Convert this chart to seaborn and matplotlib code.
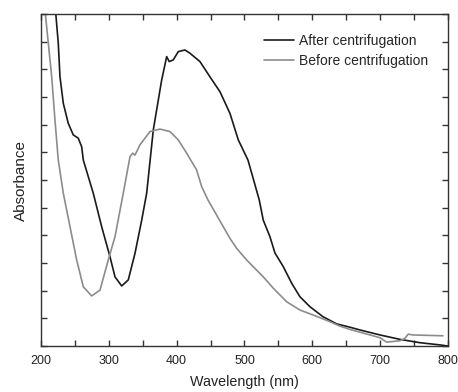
import numpy as np
import pandas as pd
import matplotlib
matplotlib.use("Agg")
import matplotlib.pyplot as plt
import seaborn as sns

# spectra
after_wl = [217.7, 225.5, 228.0, 232.9, 240.2, 247.6, 255.0, 260.0, 262.4, 277.1, 289.5,
            301.7, 309.1, 319.0, 328.7, 338.6, 348.5, 355.8, 365.6, 377.9, 385.3, 389.1,
            395.0, 402.4, 412.3, 419.7, 434.4, 449.1, 463.9, 478.6, 490.9, 505.2, 521.8,
            527.7, 537.6, 545.0, 557.2, 569.6, 581.8, 596.6, 615.7, 635.9, 655.5, 670.3,
            699.8, 729.3, 758.7, 788.2, 800.0]
after_abs = [1.32, 1.094, 0.973, 0.877, 0.805, 0.763, 0.751, 0.720, 0.672, 0.552, 0.431,
             0.323, 0.250, 0.217, 0.239, 0.335, 0.455, 0.552, 0.781, 0.961, 1.046, 1.028,
             1.034, 1.064, 1.070, 1.058, 1.028, 0.973, 0.919, 0.841, 0.745, 0.672, 0.528,
             0.455, 0.395, 0.336, 0.287, 0.227, 0.178, 0.142, 0.106, 0.080, 0.068, 0.058,
             0.040, 0.024, 0.012, 0.004, 0.0]

before_wl = [200.0, 205.9, 210.8, 215.8, 220.6, 225.5, 232.9, 242.8, 252.6, 262.4, 274.7,
             287.0, 299.2, 309.1, 321.3, 331.2, 335.2, 338.6, 345.9, 360.7, 375.4, 390.2,
             402.4, 414.8, 429.5, 436.9, 446.2, 478.6, 488.5, 503.2, 527.7, 542.5, 562.2,
             581.8, 601.4, 626.0, 640.6, 655.5, 670.3, 699.8, 709.6, 729.3, 736.6, 741.5,
             748.4, 792.6]
before_abs = [1.36, 1.214, 1.094, 0.973, 0.817, 0.672, 0.552, 0.431, 0.311, 0.214, 0.181,
              0.202, 0.311, 0.395, 0.552, 0.684, 0.697, 0.690, 0.727, 0.775, 0.784, 0.775,
              0.745, 0.697, 0.636, 0.576, 0.528, 0.389, 0.353, 0.311, 0.250, 0.209, 0.160,
              0.130, 0.112, 0.088, 0.072, 0.060, 0.050, 0.030, 0.014, 0.019, 0.028, 0.043,
              0.040, 0.037]

df = pd.concat([
    pd.DataFrame({"wl": after_wl, "abs": after_abs, "sample": "After centrifugation"}),
    pd.DataFrame({"wl": before_wl, "abs": before_abs, "sample": "Before centrifugation"}),
])

sns.set_style("ticks")
plt.rcParams["font.family"] = ["Liberation Sans", "DejaVu Sans"]

fig = plt.figure(figsize=(4.58, 3.92), dpi=100)
ax = fig.add_axes([0.0895, 0.1173, 0.8885, 0.847])

sns.lineplot(data=df, x="wl", y="abs", hue="sample", sort=False,
             palette={"After centrifugation": "#1a1a1a", "Before centrifugation": "#8c8c8c"},
             linewidth=1.2, ax=ax)

ax.set_xlim(200, 800)
ax.set_ylim(0, 1.2)
ax.set_xticks(np.arange(200, 801, 100))
ax.set_xticks(np.arange(250, 800, 100), minor=True)
ax.set_yticks(np.arange(0, 1.21, 0.1))
ax.set_yticklabels([])
ax.tick_params(which="both", direction="in", top=True, right=True, length=4,
               width=1, color="#333333", labelsize=9, labelcolor="#222222", pad=6.5)
for s in ax.spines.values():
    s.set_color("#333333")
    s.set_linewidth(1)

ax.set_xlabel("Wavelength (nm)", fontsize=10.3, color="#222222", labelpad=6)
ax.set_ylabel("Absorbance", fontsize=11, color="#222222", labelpad=3)

leg = ax.legend(loc="upper right", frameon=False, fontsize=10, handlelength=2.15,
                handletextpad=0.36, labelspacing=0.4, borderaxespad=1.05)

fig.savefig("out.png", dpi=100)
